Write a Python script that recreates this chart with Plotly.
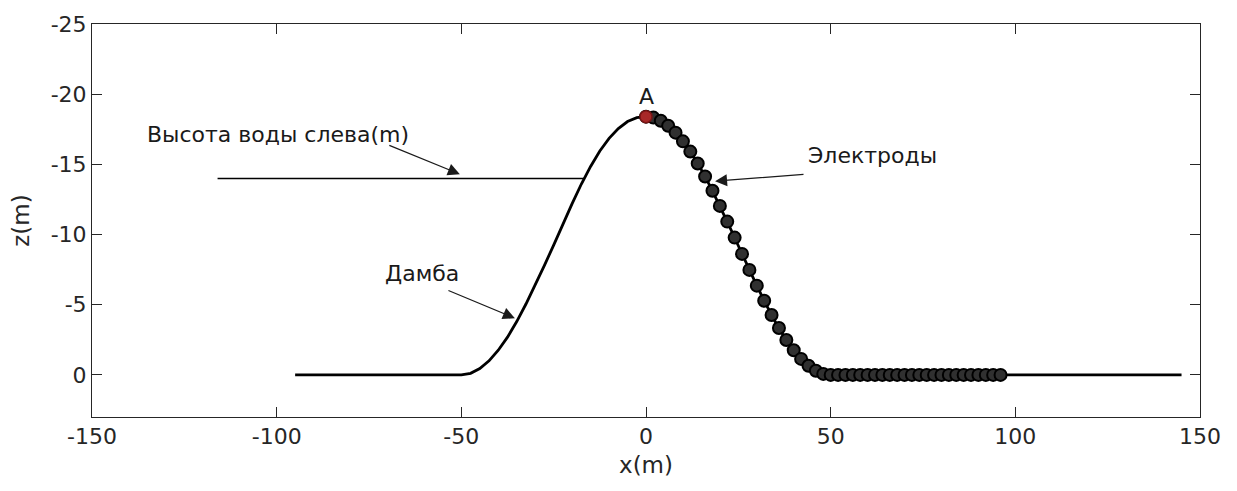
import plotly.graph_objects as go

# Dam profile
dam_x = [-95, -50, -47.5, -45, -42.5, -40, -37.5, -35, -32.5, -30, -27.5, -25, -22.5, -20,
         -17.5, -15, -12.5, -10, -7.5, -5, -2.5, 0, 2.5, 5, 7.5, 10, 12.5, 15, 17.5, 20,
         22.5, 25, 27.5, 30, 32.5, 35, 37.5, 40, 42.5, 45, 47.5, 50, 145]
dam_z = [0, 0, -0.11, -0.45, -1.0, -1.76, -2.69, -3.8, -5.05, -6.4, -7.8, -9.25, -10.75, -12.2,
         -13.6, -14.85, -15.95, -16.85, -17.55, -18.05, -18.33, -18.4, -18.29, -17.95, -17.4, -16.64,
         -15.71, -14.61, -13.38, -12.04, -10.64, -9.2, -7.76, -6.36, -5.02, -3.79, -2.69, -1.76,
         -1.0, -0.45, -0.11, 0, 0]

# Electrodes
electrode_x = [0, 2, 4, 6, 8, 10, 12, 14, 16, 18, 20, 22, 24, 26, 28, 30, 32, 34, 36, 38, 40,
               42, 44, 46, 48, 50, 52, 54, 56, 58, 60, 62, 64, 66, 68, 70, 72, 74, 76, 78, 80,
               82, 84, 86, 88, 90, 92, 94, 96]
electrode_z = [-18.4, -18.33, -18.11, -17.75, -17.26, -16.64, -15.91, -15.06, -14.13, -13.12,
               -12.04, -10.92, -9.78, -8.62, -7.48, -6.36, -5.28, -4.27, -3.34, -2.49, -1.76,
               -1.14, -0.65, -0.29, -0.07, 0, 0, 0, 0, 0, 0, 0, 0, 0, 0, 0, 0, 0, 0, 0, 0,
               0, 0, 0, 0, 0, 0, 0, 0]

# Point A
point_a_x = [0]
point_a_z = [-18.4]

# Water level on the left
water_x = [-116, -16.5]
water_z = [-14.0, -14.0]

x_ticks = [-150, -100, -50, 0, 50, 100, 150]
x_tick_text = ["-150", "-100", "-50", "0", "50", "100", "150"]
y_ticks = [-25, -20, -15, -10, -5, 0]
y_tick_text = ["-25", "-20", "-15", "-10", "-5", "0"]

FONT = "DejaVu Sans, Liberation Sans, sans-serif"
AX = "#262626"

fig = go.Figure()
fig.add_trace(go.Scatter(x=water_x, y=water_z, mode="lines",
                         line=dict(color="black", width=1.5), showlegend=False))
fig.add_trace(go.Scatter(x=dam_x, y=dam_z, mode="lines",
                         line=dict(color="black", width=2.8), showlegend=False))
fig.add_trace(go.Scatter(x=electrode_x, y=electrode_z, mode="markers",
                         marker=dict(symbol="circle", size=12, color="#303030",
                                     line=dict(color="black", width=2)),
                         showlegend=False))
fig.add_trace(go.Scatter(x=point_a_x, y=point_a_z, mode="markers",
                         marker=dict(symbol="circle", size=12, color="#a82828",
                                     line=dict(color="#7a1515", width=1.5)),
                         showlegend=False))

ann = []
def text(x, y, s, xanchor="left"):
    ann.append(dict(x=x, y=y, xref="x", yref="y", text=s, showarrow=False,
                    xanchor=xanchor, yanchor="middle",
                    font=dict(family=FONT, size=22, color="#1a1a1a")))

def arrow(tx, ty, hx, hy):
    ann.append(dict(x=hx, y=hy, xref="x", yref="y", ax=tx, ay=ty, axref="x", ayref="y",
                    text="", showarrow=True, arrowhead=2, arrowsize=2.0, arrowwidth=1.2,
                    arrowcolor="#1a1a1a"))

text(-135.7, -17.1, "Высота воды слева(m)")
arrow(-69.9, -16.4, -50.4, -14.3)
text(-71.2, -7.24, "Дамба")
arrow(-53.9, -6.06, -35.5, -4.04)
text(43.3, -15.6, "Электроды")
arrow(43.05, -14.3, 18.7, -13.8)
text(0, -19.85, "A", xanchor="center")

fig.update_layout(
    width=1237, height=491,
    margin=dict(l=92, r=37, t=16, b=74),
    paper_bgcolor="white", plot_bgcolor="white",
    font=dict(family=FONT, size=22, color=AX),
    annotations=ann,
    xaxis=dict(range=[-150, 150], tickvals=x_ticks, ticktext=x_tick_text,
               ticks="inside", ticklen=10,
               tickcolor=AX, showline=True, linecolor=AX, linewidth=1, mirror="ticks",
               showgrid=False, zeroline=False,
               title=dict(text="x(m)", standoff=8, font=dict(size=23, color=AX)),
               tickfont=dict(size=22, color=AX)),
    yaxis=dict(range=[3, -25], tickvals=y_ticks, ticktext=y_tick_text,
               ticks="inside", ticklen=10,
               tickcolor=AX, showline=True, linecolor=AX, linewidth=1, mirror="ticks",
               showgrid=False, zeroline=False,
               title=dict(text="z(m)", standoff=14, font=dict(size=23, color=AX)),
               tickfont=dict(size=22, color=AX)),
)

fig.write_html("out.html")
